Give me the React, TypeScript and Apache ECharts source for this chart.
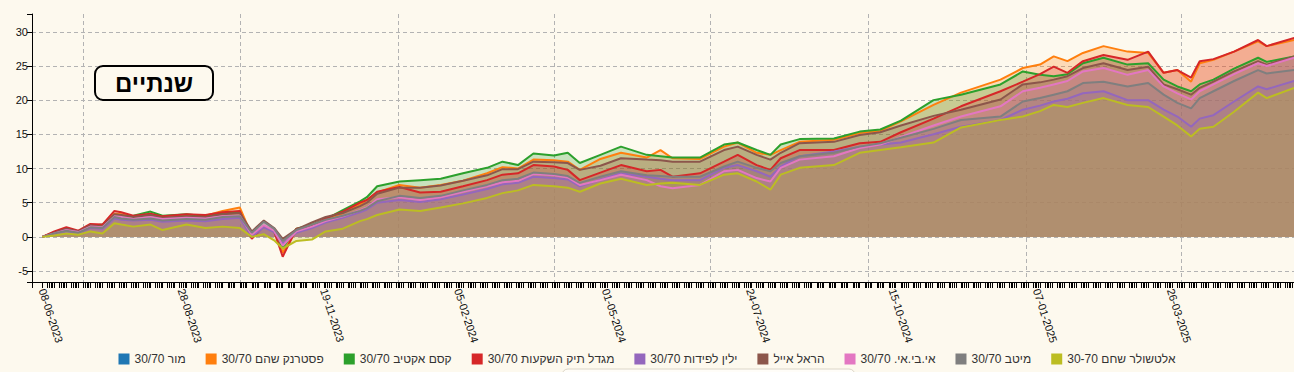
import React, { useEffect, useRef } from "react";
import * as echarts from "echarts";

const seriesNames = [
  "מור 30/70",
  "פסטרנק שהם 30/70",
  "קסם אקטיב 30/70",
  "מגדל תיק השקעות 30/70",
  "ילין לפידות 30/70",
  "הראל אייל",
  "אי.בי.אי. 30/70",
  "מיטב 30/70",
  "אלטשולר שחם 30-70",
];
const seriesColors = ["#1f77b4", "#ff7f0e", "#2ca02c", "#d62728", "#9467bd", "#8c564b", "#e377c2", "#7f7f7f", "#bcbd22"];

const axisStart = "2023-06-02";
const axisEnd = "2025-06-10";
const firstDataDate = "2023-06-08";

const sampleDates = [
  "2023-06-08", "2023-06-15", "2023-06-22", "2023-06-29", "2023-07-06", "2023-07-13", "2023-07-20", "2023-07-24",
  "2023-07-31", "2023-08-10", "2023-08-17", "2023-08-31", "2023-09-11", "2023-09-21", "2023-10-01", "2023-10-08",
  "2023-10-15", "2023-10-21", "2023-10-26", "2023-11-03", "2023-11-12", "2023-11-20", "2023-11-30", "2023-12-10",
  "2023-12-14", "2023-12-20", "2024-01-02", "2024-01-14", "2024-01-26", "2024-02-08", "2024-02-22", "2024-03-02",
  "2024-03-11", "2024-03-20", "2024-04-01", "2024-04-09", "2024-04-16", "2024-04-28", "2024-05-10", "2024-05-25",
  "2024-06-02", "2024-06-09", "2024-06-25", "2024-07-09", "2024-07-17", "2024-07-28", "2024-08-05", "2024-08-11",
  "2024-08-22", "2024-09-11", "2024-09-26", "2024-10-08", "2024-10-20", "2024-11-08", "2024-11-24", "2024-12-17",
  "2024-12-30", "2025-01-09", "2025-01-17", "2025-01-25", "2025-02-03", "2025-02-15", "2025-03-01", "2025-03-13",
  "2025-03-22", "2025-03-30", "2025-04-07", "2025-04-12", "2025-04-20", "2025-05-02", "2025-05-16", "2025-05-21",
  "2025-06-06",
];

const morValues: number[] = [];
const pasternakValues = [
  0, 0.7, 1.2, 0.8, 1.7, 1.6, 3.4, 3.3, 3.0, 3.3, 2.9, 3.2, 3.1, 3.8, 4.3, 0.2,
  1.5, 0.9, -2.3, 0.9, 1.5, 2.6, 3.5, 4.8, 5.4, 6.5, 7.6, 7.2, 7.6, 8.2, 9.3, 10.2,
  10.0, 11.3, 11.2, 11.0, 9.8, 11.4, 12.3, 11.6, 12.7, 11.5, 11.4, 13.2, 13.8, 12.3,
  12.0, 12.7, 13.9, 14.2, 15.2, 15.5, 16.9, 19.3, 21.1, 23.0, 24.7, 25.2, 26.4, 25.7,
  26.9, 27.9, 27.1, 26.9, 24.0, 24.4, 22.7, 25.4, 25.9, 27.1, 28.6, 27.9, 28.8,
];
const kesemValues = [
  0, 0.6, 1.1, 0.8, 1.6, 1.8, 3.0, 3.0, 3.1, 3.7, 3.1, 3.3, 3.0, 3.5, 3.6, 0.2,
  1.6, 0.9, -1.6, 1.2, 1.8, 2.6, 3.9, 5.2, 5.8, 7.4, 8.1, 8.3, 8.5, 9.3, 10.1, 11.0,
  10.5, 12.2, 11.9, 12.3, 10.8, 12.0, 13.2, 12.0, 11.8, 11.6, 11.6, 13.5, 13.8, 12.7,
  12.0, 13.5, 14.3, 14.4, 15.4, 15.7, 17.0, 20.0, 20.8, 22.3, 24.2, 23.7, 23.5, 23.8,
  25.4, 26.2, 25.2, 25.4, 23.0, 22.0, 21.3, 22.3, 23.0, 24.6, 26.2, 25.6, 26.4,
];
const migdalValues = [
  0, 0.8, 1.4, 0.9, 1.9, 1.8, 3.8, 3.6, 3.1, 3.4, 3.0, 3.3, 3.2, 3.6, 3.8, -0.3,
  1.6, 0.8, -2.9, 1.2, 1.6, 2.7, 3.7, 5.0, 5.4, 6.6, 7.3, 6.5, 6.6, 7.4, 8.3, 9.1,
  9.3, 10.5, 10.3, 9.8, 8.3, 9.4, 10.5, 9.6, 9.8, 8.8, 9.3, 11.0, 12.0, 10.5,
  9.8, 11.5, 12.7, 12.7, 13.7, 13.9, 15.3, 17.3, 19.1, 21.3, 22.7, 23.8, 24.9, 24.0,
  25.7, 26.6, 25.9, 27.1, 24.0, 24.4, 23.3, 25.7, 26.0, 27.1, 28.8, 27.9, 29.1,
];
const yelinValues = [
  0, 0.4, 0.8, 0.6, 1.3, 1.2, 2.7, 2.5, 2.4, 2.5, 2.2, 2.4, 2.3, 2.6, 2.8, 0.0,
  1.4, 0.7, -1.0, 0.6, 1.3, 2.1, 2.8, 3.6, 4.0, 5.0, 5.4, 5.1, 5.5, 6.2, 7.0, 7.7,
  7.9, 8.8, 8.6, 8.4, 7.4, 8.4, 9.3, 8.8, 8.5, 8.3, 8.3, 10.1, 10.5, 9.6,
  8.8, 10.3, 11.8, 12.5, 13.2, 13.5, 13.8, 15.0, 16.1, 17.1, 18.6, 19.2, 19.8, 20.2,
  21.0, 21.3, 20.0, 20.0, 18.6, 17.6, 16.1, 17.3, 17.8, 19.8, 22.0, 21.6, 22.8,
];
const harelValues = [
  0, 0.6, 1.2, 0.8, 1.7, 1.5, 3.3, 3.2, 2.9, 3.2, 2.8, 3.0, 2.9, 3.3, 3.5, 0.8,
  2.4, 1.3, -0.3, 1.1, 2.1, 2.9, 3.5, 4.5, 5.0, 6.3, 7.2, 7.2, 7.5, 8.2, 9.0, 9.9,
  9.9, 11.0, 10.9, 10.8, 9.8, 10.4, 11.5, 11.3, 11.2, 11.0, 11.0, 12.7, 13.2, 12.0,
  11.3, 12.3, 13.7, 13.9, 14.9, 15.3, 16.3, 17.7, 18.6, 20.1, 22.3, 22.6, 23.0, 23.5,
  24.7, 25.4, 24.4, 24.9, 22.3, 21.6, 20.8, 21.8, 22.7, 24.2, 25.7, 25.2, 26.4,
];
const ibiValues = [
  0, 0.5, 1.0, 0.7, 1.5, 1.4, 3.0, 2.9, 2.6, 2.9, 2.6, 2.8, 2.7, 3.0, 3.1, 0.3,
  1.7, 0.9, -1.3, 0.8, 1.5, 2.3, 3.0, 3.9, 4.3, 5.5, 5.8, 5.4, 5.8, 6.6, 7.4, 8.0,
  8.2, 9.2, 9.0, 8.7, 7.6, 8.3, 9.1, 8.3, 7.4, 7.1, 7.6, 9.6, 9.8, 8.6,
  8.1, 10.1, 11.3, 11.8, 13.0, 13.5, 14.6, 16.3, 17.6, 19.1, 21.3, 21.8, 22.3, 22.8,
  24.2, 24.7, 23.7, 24.4, 22.0, 21.0, 20.1, 21.3, 22.3, 23.8, 25.4, 25.0, 26.2,
];
const meitavValues = [
  0, 0.5, 0.9, 0.6, 1.4, 1.3, 2.9, 2.7, 2.5, 2.7, 2.4, 2.6, 2.5, 2.9, 3.0, 0.6,
  2.2, 1.2, -0.6, 1.0, 1.8, 2.5, 3.1, 3.8, 4.2, 5.2, 6.0, 5.7, 6.0, 6.8, 7.6, 8.3,
  8.5, 9.4, 9.2, 8.9, 7.9, 8.8, 9.6, 9.0, 8.9, 8.8, 8.8, 10.3, 11.0, 10.1,
  9.6, 10.8, 11.8, 12.3, 13.2, 13.7, 14.5, 15.8, 17.1, 17.6, 19.8, 20.3, 20.8, 21.3,
  22.5, 22.7, 22.0, 22.5, 20.8, 19.6, 18.8, 20.3, 21.3, 22.8, 24.4, 23.9, 24.4,
];
const altshulerValues = [
  0, 0.2, 0.5, 0.3, 0.8, 0.5, 2.0, 1.8, 1.5, 1.8, 1.0, 1.8, 1.3, 1.5, 1.3, 0.0,
  0.4, -0.5, -1.7, -0.6, -0.4, 0.8, 1.2, 2.3, 2.6, 3.2, 4.0, 3.8, 4.3, 4.9, 5.7, 6.4,
  6.8, 7.6, 7.4, 7.2, 6.6, 7.8, 8.5, 7.6, 7.8, 7.9, 7.6, 9.1, 9.3, 8.1,
  6.9, 9.1, 10.1, 10.5, 12.3, 12.7, 13.1, 13.8, 16.0, 17.1, 17.6, 18.4, 19.3, 19.0,
  19.6, 20.3, 19.3, 19.0, 17.6, 16.3, 14.7, 15.8, 16.1, 18.3, 21.1, 20.3, 21.8,
];

const seriesValues = [
  morValues, pasternakValues, kesemValues, migdalValues, yelinValues,
  harelValues, ibiValues, meitavValues, altshulerValues,
];

const labelDates = [
  "2023-06-08", "2023-08-28", "2023-11-19", "2024-02-05", "2024-05-01",
  "2024-07-24", "2024-10-15", "2025-01-07", "2025-03-26",
];
const quarterDates = [
  "2023-07-02", "2023-10-01", "2024-01-01", "2024-04-01",
  "2024-07-01", "2024-10-01", "2025-01-01", "2025-04-01",
];
const yLabelValues = [-5, 0, 5, 10, 15, 20, 25, 30];

const titleText = "שנתיים";
const BG = "#fdf9ee";
const FONT = "Arial, 'Liberation Sans', 'DejaVu Sans', sans-serif";

function buildDays(start: string, end: string): string[] {
  const out: string[] = [];
  const d = new Date(start + "T00:00:00Z");
  const e = new Date(end + "T00:00:00Z");
  while (d.getTime() <= e.getTime()) {
    out.push(d.toISOString().slice(0, 10));
    d.setUTCDate(d.getUTCDate() + 1);
  }
  return out;
}

export default function App() {
  const ref = useRef<HTMLDivElement>(null);

  useEffect(() => {
    if (!ref.current) return;
    const chart = echarts.init(ref.current, undefined, { renderer: "svg" });
    const categories = buildDays(axisStart, axisEnd);
    const indexOf: Record<string, number> = {};
    categories.forEach((c, i) => (indexOf[c] = i));

    const series = seriesNames.map((name, si) => {
      const data: (number | null)[] = categories.map(() => null);
      const vals = seriesValues[si];
      vals.forEach((v, k) => {
        const idx = indexOf[sampleDates[k]];
        if (idx !== undefined) data[idx] = v;
      });
      return {
        name,
        type: "line",
        data,
        connectNulls: true,
        showSymbol: false,
        symbol: "none",
        color: seriesColors[si],
        lineStyle: { width: 2, color: seriesColors[si] },
        areaStyle: { color: seriesColors[si], opacity: 0.25 },
        emphasis: { disabled: true },
      };
    });

    const labelSet = new Set(labelDates);
    const quarterSet = new Set(quarterDates);

    chart.setOption({
      animation: false,
      backgroundColor: BG,
      textStyle: { fontFamily: FONT },
      grid: { left: 32, right: -7, top: 14, bottom: 90, containLabel: false, outerBoundsMode: "none" },
      legend: {
        data: seriesNames,
        left: "center",
        top: 348,
        icon: "rect",
        itemWidth: 11,
        itemHeight: 11,
        itemGap: 20,
        textStyle: { fontSize: 12, color: "#333", fontFamily: FONT },
      },
      xAxis: {
        type: "category",
        data: categories,
        boundaryGap: false,
        axisLine: { show: true, onZero: false, lineStyle: { color: "#000", width: 1 } },
        axisTick: {
          show: true,
          length: 6,
          interval: (index: number, value: string) => {
            if (index === 0) return true;
            if (value < firstDataDate) return false;
            const wd = new Date(value + "T00:00:00Z").getUTCDay();
            return wd <= 4;
          },
          lineStyle: { color: "#000", width: 1 },
        },
        axisLabel: {
          show: true,
          interval: (_index: number, value: string) => labelSet.has(value),
          rotate: -72,
          margin: 7,
          fontSize: 11,
          color: "#111",
          fontFamily: FONT,
          formatter: (value: string) => value.split("-").reverse().join("-"),
        },
        splitLine: {
          show: true,
          interval: (_index: number, value: string) => quarterSet.has(value),
          lineStyle: { color: "#b3b3b3", type: [4, 3], width: 1 },
        },
      },
      yAxis: {
        type: "value",
        min: -6.6,
        max: 32.6,
        splitNumber: 8,
        axisLine: { show: true, lineStyle: { color: "#000", width: 1 } },
        axisTick: { show: true, length: 5, lineStyle: { color: "#000" } },
        axisLabel: {
          fontSize: 11,
          color: "#111",
          margin: 4,
          fontFamily: FONT,
          formatter: (v: number) => (yLabelValues.some((t) => Math.abs(t - v) < 1e-6) ? String(v) : ""),
        },
        splitLine: {
          show: true,
          showMinLine: false,
          showMaxLine: false,
          lineStyle: { color: "#b3b3b3", type: [4, 3], width: 1 },
        },
      },
      graphic: [
        {
          type: "rect",
          z: 100,
          shape: { x: 95, y: 66, width: 118, height: 34, r: 8 },
          style: { fill: BG, stroke: "#000", lineWidth: 2 },
        },
        {
          type: "text",
          z: 101,
          x: 154,
          y: 83,
          style: {
            text: titleText,
            fill: "#000",
            font: "bold 24px " + FONT,
            align: "center",
            verticalAlign: "middle",
          },
        },
        {
          type: "rect",
          z: 100,
          shape: { x: 562, y: 369, width: 293, height: 30, r: 6 },
          style: { fill: "#fffdf8", stroke: "#dcd6c8", lineWidth: 1 },
        },
      ],
      series,
    });

    return () => chart.dispose();
  }, []);

  return (
    <div
      ref={ref}
      style={{ position: "fixed", left: 0, top: 0, width: 1294, height: 372, background: BG }}
    />
  );
}
